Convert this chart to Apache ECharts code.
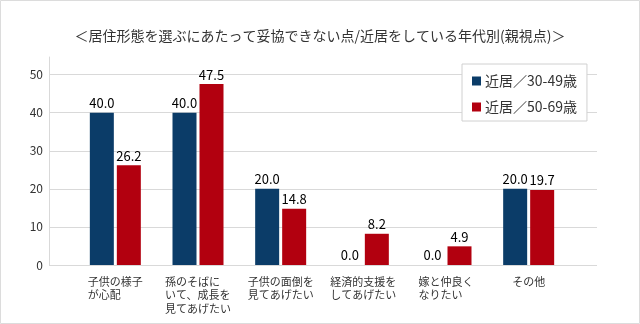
<!DOCTYPE html>
<html>
<head>
<meta charset="utf-8">
<script src="https://cdn.jsdelivr.net/npm/echarts@6/dist/echarts.min.js"></script>
<style>
  html, body { margin: 0; padding: 0; background: #fff; }
  #chart { width: 640px; height: 324px; }
</style>
</head>
<body>
<div id="chart"></div>
<script>
// Reasons for not compromising when choosing a residence, by age group of parents living nearby
const titleText = '＜居住形態を選ぶにあたって妥協できない点/近居をしている年代別(親視点)＞';
const categories = [
  '子供の様子\nが心配',
  '孫のそばに\nいて、成長を\n見てあげたい',
  '子供の面倒を\n見てあげたい',
  '経済的支援を\nしてあげたい',
  '嫁と仲良く\nなりたい',
  'その他'
];
const seriesNames = ['近居／30-49歳', '近居／50-69歳'];
const age30to49 = [40.0, 40.0, 20.0, 0.0, 0.0, 20.0];
const age50to69 = [26.2, 47.5, 14.8, 8.2, 4.9, 19.7];
const yTicks = [0, 10, 20, 30, 40, 50];

const FONT = '"Noto Sans CJK JP", "Noto Sans", sans-serif';
const CAT_FONT_SIZE = 11;

// Each category label is a left-aligned block centred under its bars.
const richStyles = {};
categories.forEach((c, i) => {
  const longest = Math.max(...c.split('\n').map(s => s.length));
  richStyles['c' + i] = {
    width: longest * CAT_FONT_SIZE,
    align: 'left',
    fontSize: CAT_FONT_SIZE,
    lineHeight: 13.5,
    color: '#333',
    fontFamily: FONT
  };
});

const chart = echarts.init(document.getElementById('chart'), null, { renderer: 'canvas' });

const GRID_TOP = 74.6;
const GRID_BOTTOM = 59;

const valueLabel = {
  show: true,
  position: 'top',
  distance: 3,
  fontSize: 13,
  fontWeight: 'normal',
  color: '#000',
  fontFamily: FONT,
  formatter: p => p.value.toFixed(1)
};

chart.setOption({
  animation: false,
  backgroundColor: '#fff',
  textStyle: { fontFamily: FONT },
  title: {
    text: titleText,
    left: 'center',
    top: 24,
    textStyle: { fontSize: 14, fontWeight: 'normal', color: '#333', fontFamily: FONT }
  },
  legend: {
    data: seriesNames,
    orient: 'vertical',
    left: 462,
    top: 64,
    padding: [9, 10, 6, 10],
    itemGap: 10,
    itemWidth: 9,
    itemHeight: 9,
    itemStyle: { borderWidth: 0 },
    icon: 'rect',
    backgroundColor: '#fff',
    borderColor: '#d0d0d0',
    borderWidth: 1,
    textStyle: { fontSize: 14, color: '#333', lineHeight: 16, fontFamily: FONT, padding: [0, 0, 0, -1] },
    z: 10
  },
  grid: [
    // gridlines and value labels
    { left: 49, right: 43, top: GRID_TOP, bottom: GRID_BOTTOM },
    // bars
    { left: 74, right: 70, top: GRID_TOP, bottom: GRID_BOTTOM },
    // vertical axis line reaching above the top gridline
    { left: 49, right: 43, top: 57, bottom: GRID_BOTTOM }
  ],
  xAxis: [
    { gridIndex: 0, type: 'value', show: false, min: 0, max: 1 },
    {
      gridIndex: 1,
      type: 'category',
      data: categories,
      axisLine: { show: false },
      axisTick: { show: false },
      axisLabel: {
        interval: 0,
        margin: 10,
        formatter: (value, idx) => value.split('\n').map(s => '{c' + idx + '|' + s + '}').join('\n'),
        rich: richStyles
      }
    },
    { gridIndex: 2, type: 'value', show: false, min: 0, max: 1 }
  ],
  yAxis: [
    {
      gridIndex: 0,
      type: 'value',
      min: yTicks[0],
      max: yTicks[yTicks.length - 1],
      interval: yTicks[1] - yTicks[0],
      axisLine: { show: false },
      axisTick: { show: false },
      axisLabel: { margin: 6, fontSize: 12, color: '#333', fontFamily: FONT },
      splitLine: { show: true, lineStyle: { color: '#d9d9d9', width: 1 } }
    },
    {
      gridIndex: 1,
      type: 'value',
      min: yTicks[0],
      max: yTicks[yTicks.length - 1],
      show: false,
      splitLine: { show: false }
    },
    {
      gridIndex: 2,
      type: 'value',
      min: 0,
      max: 1,
      axisLine: { show: true, lineStyle: { color: '#d9d9d9', width: 1 } },
      axisTick: { show: false },
      axisLabel: { show: false },
      splitLine: { show: false }
    }
  ],
  series: [
    {
      name: seriesNames[0],
      type: 'bar',
      xAxisIndex: 1,
      yAxisIndex: 1,
      data: age30to49,
      barWidth: 24,
      barGap: '12.5%',
      itemStyle: { color: '#0b3c68' },
      label: valueLabel
    },
    {
      name: seriesNames[1],
      type: 'bar',
      xAxisIndex: 1,
      yAxisIndex: 1,
      data: age50to69,
      barWidth: 24,
      barGap: '12.5%',
      itemStyle: { color: '#b2000f' },
      label: valueLabel
    }
  ],
  graphic: [
    {
      type: 'rect',
      silent: true,
      z: 100,
      shape: { x: 0.5, y: 0.5, width: 639, height: 323 },
      style: { fill: 'none', stroke: '#dcdcdc', lineWidth: 1 }
    }
  ]
});
</script>
</body>
</html>
